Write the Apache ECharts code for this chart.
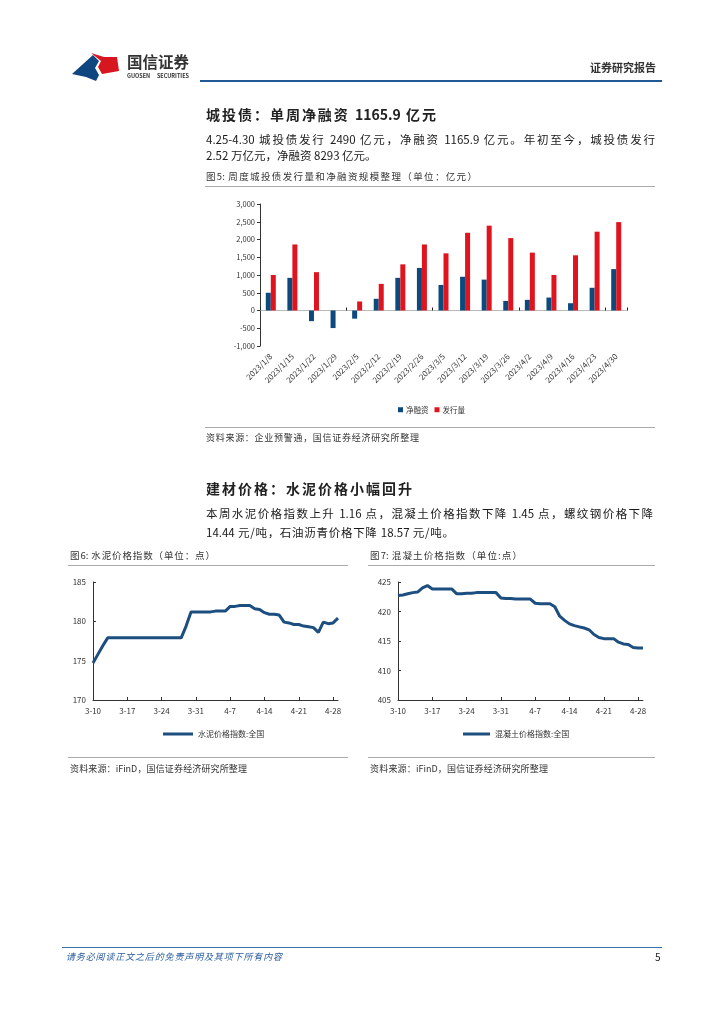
<!DOCTYPE html>
<html><head><meta charset="utf-8">
<script src="https://cdn.jsdelivr.net/npm/echarts@6/dist/echarts.min.js"></script>
<style>
html,body{margin:0;padding:0;background:#fff;}
#page{position:relative;width:724px;height:1024px;overflow:hidden;font-family:"Noto Sans CJK SC","Noto Sans",sans-serif;color:#1a1a1a;}
#chart{position:absolute;left:0;top:0;width:724px;height:1024px;}
.t{position:absolute;white-space:nowrap;line-height:1;}
.j{text-align:justify;text-align-last:justify;}
.hl{position:absolute;height:0;}
</style></head>
<body><div id="page"><div id="chart"></div>
<div class="t j" style="left:127px;top:54px;width:62px;font-size:15.5px;font-weight:bold;color:#333">国信证券</div>
<div class="t j" style="left:127px;top:74.3px;width:62px;font-size:5.5px;font-weight:bold;color:#333">GUOSEN SECURITIES</div>
<div class="t" style="right:68px;top:62px;font-size:11px;font-weight:bold;color:#333">证券研究报告</div>
<div class="hl" style="left:200px;top:80px;width:462px;border-top:2px solid #1f5a96"></div>

<div class="t j" style="left:206px;top:107.2px;width:230px;font-size:14px;font-weight:bold;color:#222">城投债：单周净融资 1165.9 亿元</div>
<div class="t j" style="left:206px;top:134px;width:449px;font-size:11.5px">4.25-4.30 城投债发行 2490 亿元，净融资 1165.9 亿元。年初至今，城投债发行</div>
<div class="t j" style="left:206px;top:150px;width:162px;font-size:11.5px">2.52 万亿元，净融资 8293 亿元。</div>
<div class="t j" style="left:206px;top:171.7px;width:271px;font-size:9.5px;color:#333">图5: 周度城投债发行量和净融资规模整理（单位：亿元）</div>
<div class="hl" style="left:205px;top:186px;width:450px;border-top:1.5px solid #aaa"></div>
<div class="hl" style="left:205px;top:426.5px;width:450px;border-top:1.5px solid #aaa"></div>
<div class="t j" style="left:206px;top:433px;width:213px;font-size:9px;color:#333">资料来源：企业预警通，国信证券经济研究所整理</div>

<div class="t j" style="left:206px;top:481.2px;width:206px;font-size:14px;font-weight:bold;color:#222">建材价格：水泥价格小幅回升</div>
<div class="t j" style="left:206px;top:507.6px;width:447px;font-size:11.5px">本周水泥价格指数上升 1.16 点，混凝土价格指数下降 1.45 点，螺纹钢价格下降</div>
<div class="t j" style="left:206px;top:526.6px;width:248px;font-size:11.5px">14.44 元/吨，石油沥青价格下降 18.57 元/吨。</div>

<div class="t j" style="left:70px;top:550.7px;width:145px;font-size:9.5px;color:#333">图6: 水泥价格指数（单位：点）</div>
<div class="t j" style="left:370px;top:550.7px;width:152px;font-size:9.5px;color:#333">图7: 混凝土价格指数（单位:点）</div>
<div class="hl" style="left:68px;top:564.5px;width:280px;border-top:1.5px solid #aaa"></div>
<div class="hl" style="left:368px;top:564.5px;width:287px;border-top:1.5px solid #aaa"></div>
<div class="hl" style="left:68px;top:756.5px;width:280px;border-top:1.5px solid #aaa"></div>
<div class="hl" style="left:368px;top:756.5px;width:287px;border-top:1.5px solid #aaa"></div>
<div class="t j" style="left:70px;top:764px;width:177px;font-size:9px;color:#333">资料来源：iFinD，国信证券经济研究所整理</div>
<div class="t j" style="left:370px;top:764px;width:178px;font-size:9px;color:#333">资料来源：iFinD，国信证券经济研究所整理</div>

<div class="hl" style="left:62px;top:946.5px;width:600px;border-top:1px solid #3a6ea5"></div>
<div class="t j" style="left:66px;top:952px;width:216px;font-size:9px;font-style:italic;color:#2a5d9f">请务必阅读正文之后的免责声明及其项下所有内容</div>
<div class="t" style="left:655px;top:951.5px;font-size:10px;color:#222">5</div>
</div>
<script>
// ---- Chart 5: weekly chengtou bonds (亿元)
const cats5 = ['2023/1/8','2023/1/15','2023/1/22','2023/1/29','2023/2/5','2023/2/12','2023/2/19','2023/2/26','2023/3/5','2023/3/12','2023/3/19','2023/3/26','2023/4/2','2023/4/9','2023/4/16','2023/4/23','2023/4/30'];
const netFinance = [500,920,-300,-495,-230,330,920,1200,720,950,870,270,300,365,205,640,1165.9];
const issuance = [1000,1860,1080,0,255,750,1300,1860,1610,2190,2390,2040,1630,1000,1555,2220,2490];
const yTicks5 = {min:-1000,max:3000,interval:500};

// ---- Charts 6/7: daily index values
const dates = ['3-10','3-11','3-12','3-13','3-14','3-15','3-16','3-17','3-18','3-19','3-20','3-21','3-22','3-23','3-24','3-25','3-26','3-27','3-28','3-29','3-30','3-31',
  '4-1','4-2','4-3','4-4','4-5','4-6','4-7','4-8','4-9','4-10','4-11','4-12','4-13','4-14','4-15','4-16','4-17','4-18','4-19','4-20','4-21','4-22','4-23','4-24','4-25','4-26','4-27','4-28','4-29'];
const cement = [174.7,175.8,176.9,177.9,177.9,177.9,177.9,177.9,177.9,177.9,
  177.9,177.9,177.9,177.9,177.9,177.9,177.9,177.9,177.9,179.4,
  181.2,181.2,181.2,181.2,181.2,181.3,181.3,181.3,181.9,181.9,
  182.0,182.0,182.0,181.6,181.5,181.1,180.9,180.9,180.8,179.9,
  179.8,179.6,179.6,179.4,179.3,179.2,178.6,179.9,179.7,179.8,
  180.4];
const concrete = [422.7,422.8,423.0,423.2,423.3,424.0,424.4,423.8,423.8,423.8,
  423.8,423.8,423.0,423.0,423.1,423.1,423.2,423.2,423.2,423.2,
  423.2,422.3,422.2,422.2,422.1,422.1,422.1,422.1,421.4,421.3,
  421.3,421.3,420.8,419.2,418.5,417.9,417.6,417.4,417.2,416.9,
  416.1,415.6,415.4,415.4,415.4,414.8,414.5,414.4,413.9,413.8,
  413.8];
const yTicks6 = {min:170,max:185,interval:5};
const yTicks7 = {min:405,max:425,interval:5};

const BLUE = '#0c4a7e', RED = '#e0141e', LINE = '#1c4f7f';
const FONT = '"Noto Sans CJK SC","Noto Sans",sans-serif';

const chart = echarts.init(document.getElementById('chart'), null, {renderer:'canvas'});
const lineAxisX = (gi) => ({
  type:'category', gridIndex:gi, data:dates, boundaryGap:false,
  axisLine:{lineStyle:{color:'#333',width:1}},
  axisTick:{show:true,inside:true,length:3,interval:6,lineStyle:{color:'#333'}},
  axisLabel:{interval:6,fontSize:8,color:'#333',margin:7,fontFamily:FONT},
  splitLine:{show:false}
});
const lineAxisY = (gi, t) => ({
  type:'value', gridIndex:gi, min:t.min, max:t.max, interval:t.interval,
  axisLine:{show:true,lineStyle:{color:'#333',width:1}},
  axisTick:{show:true,inside:true,length:3,lineStyle:{color:'#333'}},
  axisLabel:{fontSize:8,color:'#333',margin:7,fontFamily:FONT},
  splitLine:{show:false}
});

chart.setOption({
  animation:false,
  textStyle:{fontFamily:FONT},
  graphic:[
    {type:'polygon', shape:{points:[[72,74],[93,55],[99,61],[95,68],[99,75],[96,81],[86,77]]}, style:{fill:'#0f4680'}},
    {type:'polygon', shape:{points:[[91,53],[104,57],[117,57],[119,71],[102,74],[98,67],[101,61]]}, style:{fill:'#d7161f'}}
  ],
  grid:[
    {left:260, top:204, width:367, height:142},
    {left:93, top:582, width:245, height:118},
    {left:398, top:582, width:245, height:118}
  ],
  legend:[
    {data:['净融资','发行量'], left:393, top:401, icon:'rect', itemWidth:5, itemHeight:5, itemGap:6,
     textStyle:{fontSize:7.5,color:'#333',padding:[0,0,0,-2]}},
    {data:['水泥价格指数:全国'], left:158, top:725, icon:'rect', itemWidth:30, itemHeight:3,
     textStyle:{fontSize:8,color:'#333'}},
    {data:['混凝土价格指数:全国'], left:458, top:725, icon:'rect', itemWidth:27, itemHeight:3,
     textStyle:{fontSize:8,color:'#333'}}
  ],
  xAxis:[
    {type:'category', gridIndex:0, data:cats5,
     axisLine:{show:false,onZero:false}, axisTick:{show:false},
     axisLabel:{interval:0,rotate:45,fontSize:8,color:'#333',margin:9}},
    {type:'category', gridIndex:0, data:cats5, position:'bottom',
     axisLine:{show:true,onZero:true,lineStyle:{color:'#bbb',width:1}},
     axisTick:{show:true,inside:true,length:3,lineStyle:{color:'#222'}},
     axisLabel:{show:false}},
    lineAxisX(1),
    lineAxisX(2)
  ],
  yAxis:[
    {type:'value', gridIndex:0, min:yTicks5.min, max:yTicks5.max, interval:yTicks5.interval,
     axisLine:{show:true,lineStyle:{color:'#333',width:1}},
     axisTick:{show:true,length:3,lineStyle:{color:'#333'}},
     axisLabel:{fontSize:7.5,color:'#333',margin:5,
       formatter:v=>v.toLocaleString('en-US')},
     splitLine:{show:false}},
    lineAxisY(1, yTicks6),
    lineAxisY(2, yTicks7)
  ],
  series:[
    {name:'净融资', type:'bar', xAxisIndex:0, yAxisIndex:0, data:netFinance, barWidth:5, barGap:'0%', itemStyle:{color:BLUE}},
    {name:'发行量', type:'bar', xAxisIndex:0, yAxisIndex:0, data:issuance, barWidth:5, barGap:'0%', itemStyle:{color:RED}},
    {name:'水泥价格指数:全国', type:'line', xAxisIndex:2, yAxisIndex:1, data:cement, symbol:'none',
     lineStyle:{color:LINE,width:3}, itemStyle:{color:LINE}},
    {name:'混凝土价格指数:全国', type:'line', xAxisIndex:3, yAxisIndex:2, data:concrete, symbol:'none',
     lineStyle:{color:LINE,width:3}, itemStyle:{color:LINE}}
  ]
});
</script>
</body></html>
